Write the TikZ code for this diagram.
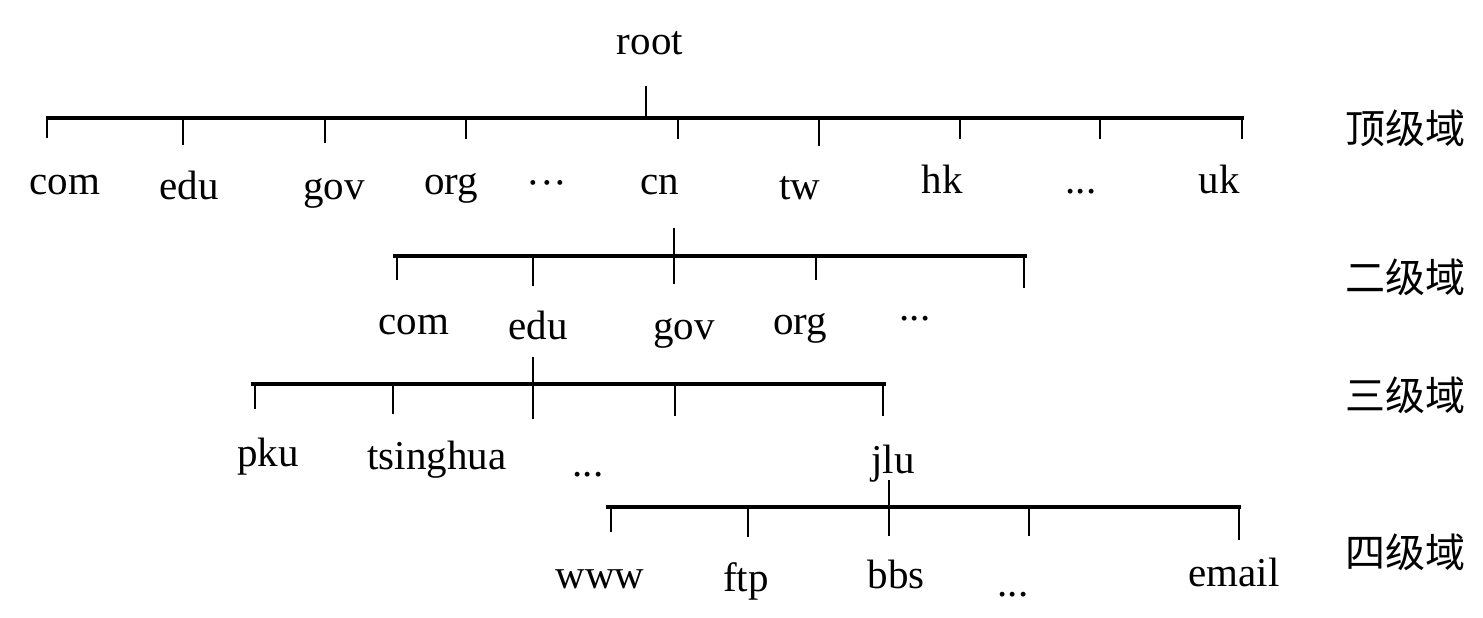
\documentclass[tikz,border=0pt]{standalone}
\usepackage{fontspec}
\setmainfont{Liberation Serif}
\newfontfamily\cjk{Noto Sans CJK SC}
\usepackage{tikz}
\tikzstyle{domainTree} = [x = 1pt, y = -1pt]
\tikzstyle{barLine} = [line width = 3.4pt]
\tikzstyle{tickLine} = [line width = 2.4pt]
\tikzstyle{domainText} = [font=\fontsize{41}{41}\selectfont, anchor = base, inner sep = 0pt]
\tikzstyle{levelText} = [font=\cjk\fontsize{40}{40}\selectfont, inner sep = 0pt]
% tick: name, x, y of bar, length
\newcommand{\domainTick}[4]{\coordinate (#1) at (#2, #3); \draw [tickLine] (#1) -- ++(0, #4);}
\newcommand{\lowDots}{...}
\newcommand{\midDots}{···}

\begin{document}
\begin{tikzpicture}[domainTree]
  \useasboundingbox (0, 0) rectangle (1483, 618);
  % root
  \node [domainText] (root) at (650, 55) {root};
  \coordinate (rootJoint) at (646, 118);
  \draw [tickLine] (rootJoint) -- ++(0, -32);
  % top level
  \coordinate (barOneLeft) at (46, 118);
  \coordinate (barOneRight) at (1244, 118);
  \draw [barLine] (barOneLeft) -- (barOneRight);
  \foreach \name/\xpos/\len in {com/47/20, edu/183/27, gov/325/25, org/466/21, cn/678/21, tw/819/28, hk/960/21, more/1100/21, uk/1242/21} {
    \domainTick{tickOne\name}{\xpos}{118}{\len}
  }
  \foreach \name/\xpos/\ypos/\txt in {com/65/194/com, edu/189/199/edu, gov/334/199/gov, org/451/194/org, dots/547/196/\midDots, cn/660/194/cn, tw/800/199/tw, hk/942/193/hk, more/1081/193/\lowDots, uk/1219/193/uk} {
    \node [domainText] (one\name) at (\xpos, \ypos) {\txt};
  }
  \node [levelText] (levelOne) at (1405, 128) {顶级域};
  % second level
  \coordinate (cnJoint) at (674, 256);
  \draw [tickLine] (cnJoint) -- ++(0, -28);
  \coordinate (barTwoLeft) at (393, 256);
  \coordinate (barTwoRight) at (1027, 256);
  \draw [barLine] (barTwoLeft) -- (barTwoRight);
  \foreach \name/\xpos/\len in {com/397/24, edu/533/30, gov/674/28, org/816/24, more/1024/32} {
    \domainTick{tickTwo\name}{\xpos}{256}{\len}
  }
  \foreach \name/\xpos/\ypos/\txt in {com/414/334/com, edu/538/339/edu, gov/684/339/gov, org/800/334/org, more/915/320/\lowDots} {
    \node [domainText] (two\name) at (\xpos, \ypos) {\txt};
  }
  \node [levelText] (levelTwo) at (1405, 277) {二级域};
  % third level
  \coordinate (eduJoint) at (533, 384);
  \draw [tickLine] (eduJoint) -- ++(0, -27);
  \coordinate (barThreeLeft) at (251, 384);
  \coordinate (barThreeRight) at (886, 384);
  \draw [barLine] (barThreeLeft) -- (barThreeRight);
  \foreach \name/\xpos/\len in {pku/255/25, tsinghua/393/30, edu/533/35, more/675/32, jlu/883/32} {
    \domainTick{tickThree\name}{\xpos}{384}{\len}
  }
  \foreach \name/\xpos/\ypos/\txt in {pku/268/466/pku, tsinghua/437/469/tsinghua, more/588/476/\lowDots, jlu/893/473/jlu} {
    \node [domainText] (three\name) at (\xpos, \ypos) {\txt};
  }
  \node [levelText] (levelThree) at (1405, 395) {三级域};
  % fourth level
  \coordinate (jluJoint) at (889, 507);
  \draw [tickLine] (jluJoint) -- ++(0, -27);
  \coordinate (barFourLeft) at (606, 507);
  \coordinate (barFourRight) at (1241, 507);
  \draw [barLine] (barFourLeft) -- (barFourRight);
  \foreach \name/\xpos/\len in {www/611/25, ftp/748/30, bbs/889/29, more/1029/29, email/1239/33} {
    \domainTick{tickFour\name}{\xpos}{507}{\len}
  }
  \foreach \name/\xpos/\ypos/\txt in {www/600/588/www, ftp/746/591/ftp, bbs/896/588/bbs, more/1013/596/\lowDots, email/1234/586/email} {
    \node [domainText] (four\name) at (\xpos, \ypos) {\txt};
  }
  \node [levelText] (levelFour) at (1405, 552) {四级域};
\end{tikzpicture}
\end{document}
